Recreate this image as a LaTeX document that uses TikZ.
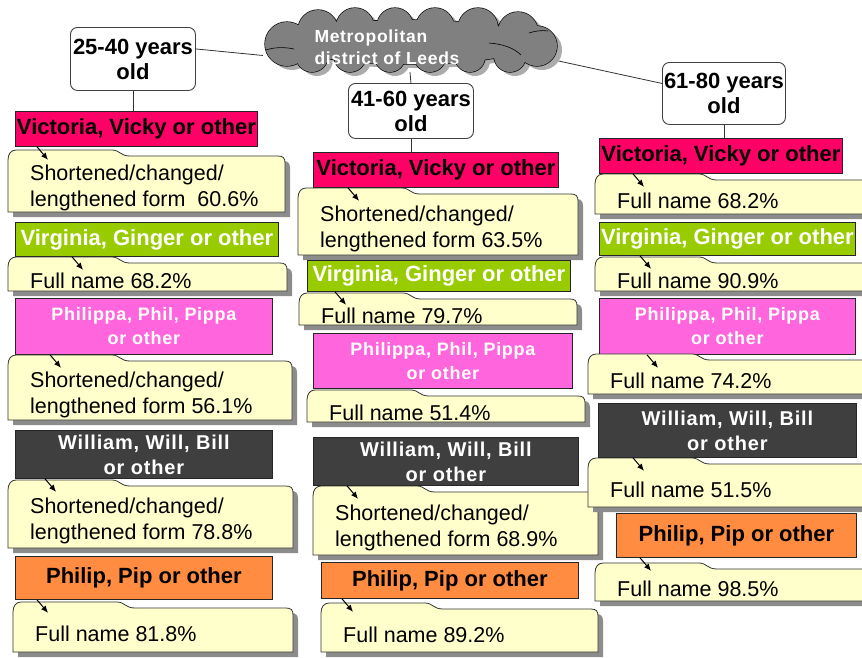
\documentclass[tikz,border=0pt]{standalone}
\usepackage{fontspec}
\setmainfont{Liberation Sans}
\newfontfamily\widesans[LetterSpace=4]{Liberation Sans}
\usetikzlibrary{arrows.meta}

\definecolor{vickyred}{HTML}{FF0066}
\definecolor{gingergreen}{HTML}{99CC00}
\definecolor{pippapink}{HTML}{FF66DD}
\definecolor{billgrey}{HTML}{3F3F3F}
\definecolor{piporange}{HTML}{FF8C40}
\definecolor{notepaper}{HTML}{FFFFCC}

\tikzset{
  agebox/.style={draw=black!75, line width=0.9pt, rounded corners=7pt, fill=white,
    anchor=north west, inner sep=0pt, align=center, font=\fontsize{22}{25}\selectfont\bfseries},
  namebox/.style={draw=black!85, line width=0.8pt, anchor=north west, inner sep=0pt,
    align=center, font=\fontsize{22}{25}\selectfont\bfseries},
  vicky/.style={namebox, fill=vickyred, minimum height=35},
  ginger/.style={namebox, fill=gingergreen, text=white, minimum height=34},
  pippa/.style={namebox, fill=pippapink, text=white, minimum height=56,
    font=\fontsize{18}{24}\widesans\bfseries},
  bill/.style={namebox, fill=billgrey, text=white, minimum height=48,
    font=\fontsize{20}{25}\widesans\bfseries},
  pip/.style={namebox, fill=piporange, minimum height=43},
  notetext/.style={anchor=west, inner sep=0pt, align=left, font=\fontsize{21.5}{26}\selectfont},
  link/.style={draw=black!80, line width=0.8pt},
  pointer/.style={black, line width=1pt, -{Latex[length=7pt,width=6pt]}},
}

% folder-like note: left, top of tab, right, bottom
\newcommand\notepath[4]{(#1,#4) -- (#1,#2+10) .. controls (#1,#2+4) and (#1+3,#2) .. (#1+8,#2)
  -- (#1+104,#2) .. controls (#1+112,#2) and (#1+112,#2+6) .. (#1+122,#2+6)
  -- (#3-7,#2+6) .. controls (#3-2,#2+6) and (#3,#2+8) .. (#3,#2+13) -- (#3,#4) -- cycle}
\newcommand\namenote[6]{%
  \fill[black!45, xshift=5pt, yshift=-5pt] \notepath{#2}{#3}{#4}{#5};
  \draw[black!80, line width=0.8pt, fill=notepaper] \notepath{#2}{#3}{#4}{#5};
  \node[notetext] (#1) at (#2+22,{(#3+#5)/2+7}) {#6};
}
% puffs of the district cloud
\newcommand\puffs{%
  (410,42) ellipse (125pt and 22pt)
  (287,44) circle (22pt) (318,30) circle (20pt) (355,27) circle (19pt)
  (395,26) circle (18pt) (435,27) circle (19pt) (478,28) circle (20pt)
  (518,32) circle (20pt) (537,46) circle (20pt) (510,56) circle (16pt)
  (470,57) circle (15pt) (430,56) circle (16pt) (390,57) circle (15pt)
  (350,56) circle (16pt) (312,56) circle (16pt)}

\begin{document}
\begin{tikzpicture}[x=1pt, y=-1pt]
  \useasboundingbox (0,0) rectangle (862,657);

  % age groups and the district they hang from
  \node[agebox, minimum width=125, minimum height=63] (a1) at (70,27) {25-40 years\\old};
  \node[agebox, minimum width=125, minimum height=55] (a2) at (348,83) {41-60 years\\old};
  \node[agebox, minimum width=123, minimum height=62] (a3) at (662,62) {61-80 years\\old};
  \node[minimum width=294, minimum height=64, inner sep=0pt] (leeds) at (410,40) {};

  \draw[link] ([yshift=10pt]a1.east) -- (leeds.186);
  \draw[link] (a2.north) -- (leeds.south);
  \draw[link] (leeds.-8) -- ([yshift=10pt]a3.west);

  % district cloud
  \fill[black!33, xshift=5pt, yshift=-4pt] \puffs;
  \draw[black, line width=1.3pt] \puffs;
  \fill[black!50] \puffs;
  \draw[black, line width=0.6pt] (266,50) .. controls (275,47) and (285,47) .. (294,49);
  \draw[black, line width=0.6pt] (489,43) .. controls (503,44) and (514,48) .. (521,55);
  \draw[black, line width=0.6pt] (529,33) .. controls (535,31) and (542,30) .. (548,31);
  \node[text=white, align=left, inner sep=0pt, font=\fontsize{17.5}{22}\widesans\bfseries]
    (leedslabel) at (387,47) {Metropolitan\\district of Leeds};

  % 25-40
  \node[vicky, minimum width=242] (v1) at (15,111) {Victoria, Vicky or other};
  \namenote{n1}{8}{150}{285}{212}{Shortened/changed/\\lengthened form\ \ 60.6\%}
  \node[ginger, minimum width=263] (g1) at (15,222) {Virginia, Ginger or other};
  \namenote{n2}{8}{257}{287}{291}{Full name 68.2\%}
  \node[pippa, minimum width=257] (p1) at (15,298) {Philippa, Phil, Pippa\\or other};
  \namenote{n3}{8}{355}{292}{420}{Shortened/changed/\\lengthened form 56.1\%}
  \node[bill, minimum width=257] (w1) at (15,430) {William, Will, Bill\\or other};
  \namenote{n4}{8}{480}{293}{548}{Shortened/changed/\\lengthened form 78.8\%}
  \node[pip, minimum width=257] (o1) at (15,556) {Philip, Pip or other};
  \namenote{n5}{13}{602}{293}{652}{Full name 81.8\%}

  % 41-60
  \node[vicky, minimum width=245] (v2) at (313,152) {Victoria, Vicky or other};
  \namenote{n6}{298}{188}{578}{255}{Shortened/changed/\\lengthened form 63.5\%}
  \node[ginger, minimum width=263, minimum height=31] (g2) at (307,260) {Virginia, Ginger or other};
  \namenote{n7}{299}{293}{577}{325}{Full name 79.7\%}
  \node[pippa, minimum width=259, minimum height=55] (p2) at (313,333) {Philippa, Phil, Pippa\\or other};
  \namenote{n8}{307}{390}{585}{422}{Full name 51.4\%}
  \node[bill, minimum width=265] (w2) at (313,437) {William, Will, Bill\\or other};
  \namenote{n9}{313}{486}{598}{555}{Shortened/changed/\\lengthened form 68.9\%}
  \node[pip, minimum width=257, minimum height=36] (o2) at (321,562) {Philip, Pip or other};
  \namenote{n10}{321}{603}{598}{652}{Full name 89.2\%}

  % 61-80
  \node[vicky, minimum width=243] (v3) at (599,138) {Victoria, Vicky or other};
  \namenote{n11}{595}{174}{870}{214}{Full name 68.2\%}
  \node[ginger, minimum width=256, minimum height=33] (g3) at (599,222) {Virginia, Ginger or other};
  \namenote{n12}{595}{257}{870}{291}{Full name 90.9\%}
  \node[pippa, minimum width=256] (p3) at (599,298) {Philippa, Phil, Pippa\\or other};
  \namenote{n13}{588}{354}{870}{394}{Full name 74.2\%}
  \node[bill, minimum width=258, minimum height=54] (w3) at (598,403) {William, Will, Bill\\or other};
  \namenote{n14}{588}{458}{870}{507}{Full name 51.5\%}
  \node[pip, minimum width=240, minimum height=44] (o3) at (616,513) {Philip, Pip or other};
  \namenote{n15}{595}{563}{870}{601}{Full name 98.5\%}

  \draw[link] (a1.south) -- (a1.south |- v1.north);
  \draw[link] (a2.south) -- (a2.south |- v2.north);
  \draw[link] (a3.south) -- (a3.south |- v3.north);

  % small pointers into the notes
  \foreach \from/\dx in {v1/22, g1/57, p1/35, w1/30, o1/22, v2/35, g2/28, w2/34,
                         o2/21, v3/34, g3/41, p3/48, w3/35, o3/24}
    \draw[pointer] ([xshift=\dx pt]\from.south west) -- ++(11pt,-13pt);
\end{tikzpicture}
\end{document}
